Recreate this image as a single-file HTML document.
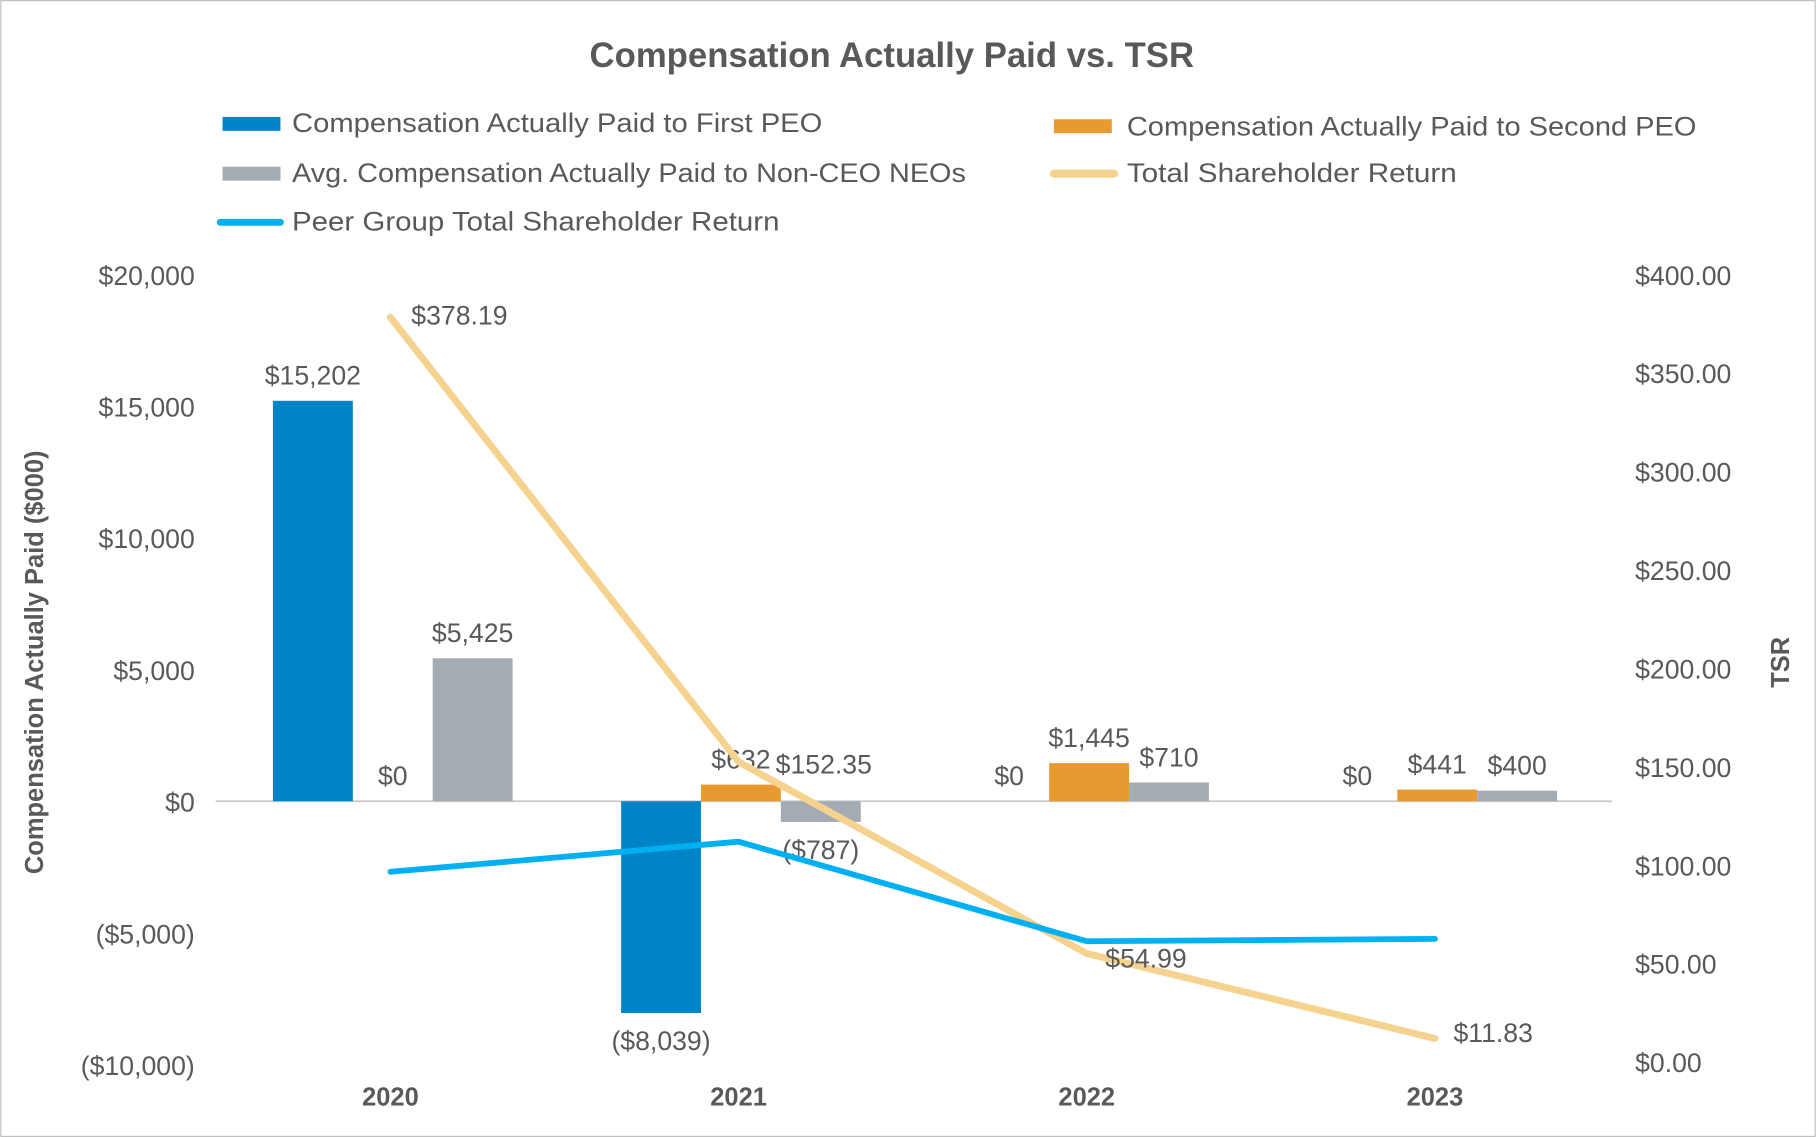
<!DOCTYPE html>
<html><head><meta charset="utf-8"><style>
html,body{margin:0;padding:0;background:#fff}
svg{display:block;font-family:"Liberation Sans",sans-serif}
</style></head><body>
<svg id="chart" width="1816" height="1137" viewBox="0 0 1568 982" xmlns="http://www.w3.org/2000/svg">
<rect x="0.5" y="0.5" width="1567" height="981" fill="#fff" stroke="#bfbfbf"/>
<text x="770" y="58" text-anchor="middle" font-size="30" font-weight="bold" fill="#595959">Compensation Actually Paid vs. TSR</text>
<g font-size="23" fill="#595959">
<g><rect x="192" y="101" width="50" height="12" fill="#0084C8"/><text x="252" y="114" textLength="458" lengthAdjust="spacingAndGlyphs">Compensation Actually Paid to First PEO</text></g>
<g><rect x="910" y="103" width="50" height="12" fill="#E8992F"/><text x="973" y="117" textLength="492" lengthAdjust="spacingAndGlyphs">Compensation Actually Paid to Second PEO</text></g>
<g><rect x="192" y="144" width="50" height="12" fill="#A5ABB2"/><text x="252" y="157" textLength="582" lengthAdjust="spacingAndGlyphs">Avg. Compensation Actually Paid to Non-CEO NEOs</text></g>
<g><line x1="910" y1="150" x2="962" y2="150" stroke="#F5D38F" stroke-width="7" stroke-linecap="round"/><text x="973" y="157" textLength="285" lengthAdjust="spacingAndGlyphs">Total Shareholder Return</text></g>
<g><line x1="190" y1="192" x2="242" y2="192" stroke="#00B0F0" stroke-width="6" stroke-linecap="round"/><text x="252" y="199" textLength="421" lengthAdjust="spacingAndGlyphs">Peer Group Total Shareholder Return</text></g>
</g>
<text transform="translate(37,572) rotate(-90)" text-anchor="middle" font-size="22" font-weight="bold" fill="#595959">Compensation Actually Paid ($000)</text>
<text transform="translate(1545,572) rotate(-90)" text-anchor="middle" font-size="22" font-weight="bold" fill="#595959">TSR</text>
<g id="marks"></g>
</svg>
<script>
const categories = ["2020","2021","2022","2023"];
const firstPeo = [15202, -8039, 0, 0];
const secondPeo = [0, 632, 1445, 441];
const neos = [5425, -787, 710, 400];
const tsr = [378.19, 152.35, 54.99, 11.83];
const peerTsr = [96.5, 111.8, 61.2, 62.4];
const leftTicks = [20000, 15000, 10000, 5000, 0, -5000, -10000];
const leftTickLabels = ["$20,000","$15,000","$10,000","$5,000","$0","($5,000)","($10,000)"];
const rightTicks = [400,350,300,250,200,150,100,50,0];
const rightTickLabels = ["$400.00","$350.00","$300.00","$250.00","$200.00","$150.00","$100.00","$50.00","$0.00"];

const NS="http://www.w3.org/2000/svg";
const g=document.getElementById('marks');
const yL=v=>692-v*(455/20000);
const yR=v=>917-v*(680/400);
const xC=i=>339+i*300.7;
const BW=69;
function mk(tag,attrs,txt){const e=document.createElementNS(NS,tag);for(const k in attrs)e.setAttribute(k,attrs[k]);if(txt!==undefined)e.textContent=txt;g.appendChild(e);return e;}
const fmt=v=>{const s="$"+Math.abs(v).toLocaleString("en-US");return v<0?"("+s+")":s;};

leftTicks.forEach((t,i)=>{
  const e=mk('text',{x:168,y:yL(t)+9,'text-anchor':'end','font-size':23,fill:'#595959'},leftTickLabels[i]);
  
  
});
rightTicks.forEach((t,i)=>{
  const e=mk('text',{x:1412,y:yR(t)+9,'font-size':23,fill:'#595959'},rightTickLabels[i]);
  
  
});
const zl=mk('line',{x1:186,x2:1392,y1:yL(0),y2:yL(0),stroke:'#c8c8c8','stroke-width':1.5});


categories.forEach((c,i)=>{
  const e=mk('text',{x:xC(i)-2,y:955,'text-anchor':'middle','font-size':22,'font-weight':'bold',fill:'#595959'},c);
  
  
});
const series=[[firstPeo,'#0084C8',-1,'bar-first-peo'],[secondPeo,'#E8992F',0,'bar-second-peo'],[neos,'#A5ABB2',1,'bar-non-ceo-neos']];
series.forEach(([vals,col,off,name])=>{
  vals.forEach((v,i)=>{
    const x=xC(i)+off*BW-BW/2, y0=yL(0), y1=yL(v);
    const r=mk('rect',{x:x,y:Math.min(y0,y1),width:BW,height:Math.max(Math.abs(y1-y0),0.01),fill:col});
    
    
    const ly=v<0?y1+32:Math.min(y1,y0)-14;
    const t=mk('text',{x:x+BW/2,y:ly,'text-anchor':'middle','font-size':23,fill:'#595959'},fmt(v));
    
    
  });
});
function line(vals,col,w,name){
  const pts=vals.map((v,i)=>(xC(i)-2)+","+yR(v)).join(" ");
  const p=mk('polyline',{points:pts,fill:'none',stroke:col,'stroke-width':w,'stroke-linejoin':'round','stroke-linecap':'round'});
  
  
}
line(tsr,'#F5D38F',6,'line-tsr');
line(peerTsr,'#00B0F0',5,'line-peer-tsr');
const tsrDx=[16,30,14,14], tsrDy=[6,10,12,3];
tsr.forEach((v,i)=>{
  const t=mk('text',{x:xC(i)+tsrDx[i],y:yR(v)+tsrDy[i],'font-size':23,fill:'#595959'},"$"+v.toFixed(2));
  
  
});
</script>
</body></html>
